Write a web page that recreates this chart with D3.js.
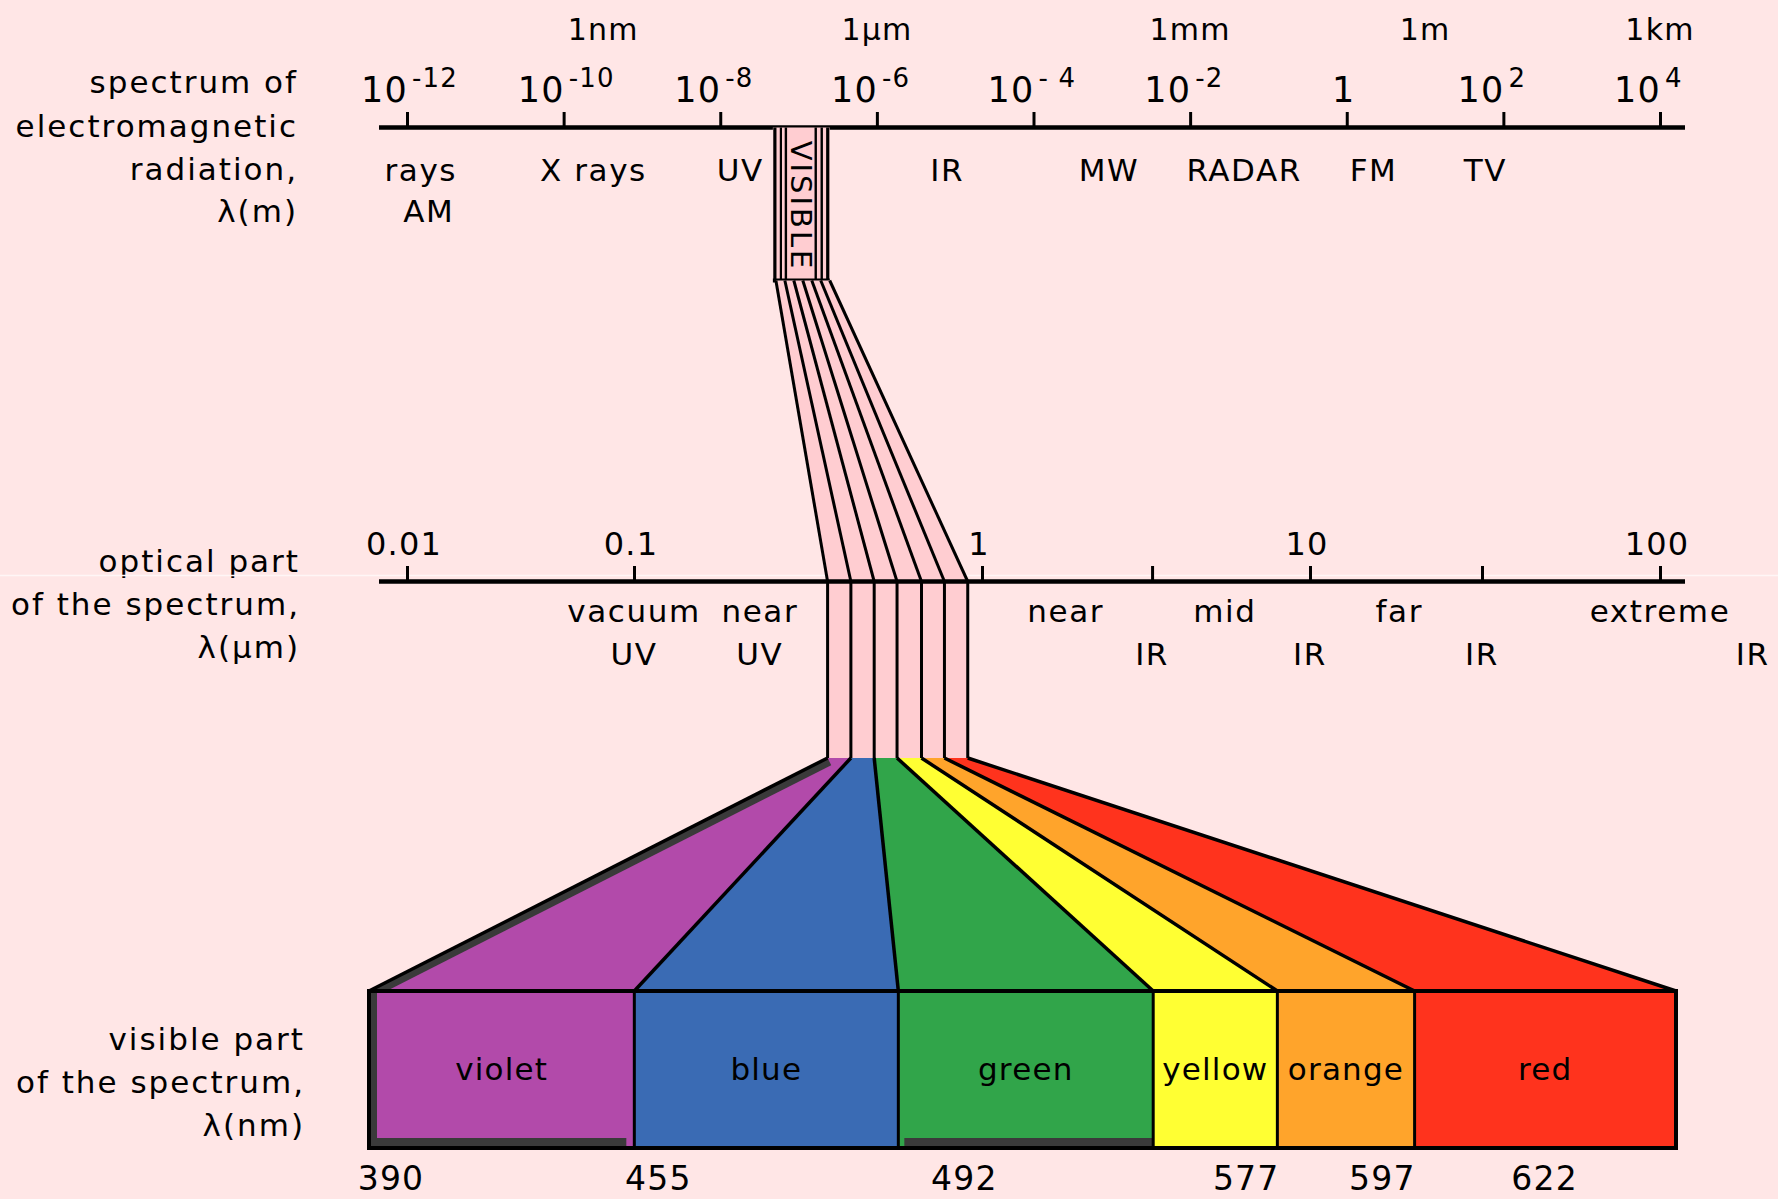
<!DOCTYPE html>
<html>
<head>
<meta charset="utf-8">
<script src="https://cdn.jsdelivr.net/npm/d3@7"></script>
<style>
  body { margin: 0; background: #ffe6e6; }
  svg { display: block; }
  text { font-family: "DejaVu Sans", sans-serif; fill: #000; }
</style>
</head>
<body>
<svg id="chart"></svg>
<script>
// ---- data ----
// top axis: wavelength in metres
const topTicksM   = [1e-12, 1e-10, 1e-8, 1e-6, 1e-4, 1e-2, 1, 1e2, 1e4];
const topTickBase = ["10", "10", "10", "10", "10", "10", "1", "10", "10"];
const topTickExp  = ["-12", "-10", "-8", "-6", "- 4", "-2", "", "2", "4"];
const unitLabels  = ["1nm", "1µm", "1mm", "1m", "1km"];
const unitAtM     = [3.2e-10, 1e-6, 1e-2, 10, 1e4];
const emBands     = ["rays", "X rays", "UV", "IR", "MW", "RADAR", "FM", "TV"];
const emBandAtM   = [1.5e-12, 2.4e-10, 1.8e-8, 7.9e-6, 9.2e-4, 0.049, 2.2, 59];
const emBands2    = ["AM"];
const emBands2AtM = [1.9e-12];
const visibleM    = [4.7e-8, 2.5e-7];

// optical axis: wavelength in micrometres
const optTicks       = [0.01, 0.1, 1, 10, 100];
const optTickLabels  = ["0.01", "0.1", "1", "10", "100"];
const optMinorTicks  = [3.3, 31];
const optTop         = ["vacuum", "near", "near", "mid", "far", "extreme"];
const optTopAt       = [0.1, 0.23, 1.8, 5.5, 18, 100];
const optBottom      = ["UV", "UV", "IR", "IR", "IR", "IR"];
const optBottomAt    = [0.1, 0.23, 3.3, 10, 31, 184];
const visibleEdgesUm = [0.36, 0.42, 0.49, 0.57, 0.67, 0.78, 0.91];

// visible part: wavelength in nanometres
const colorNames = ["violet", "blue", "green", "yellow", "orange", "red"];
const colorFills = ["#b24aaa", "#3a6bb4", "#31a54a", "#ffff33", "#ffa42b", "#ff331d"];
const nmEdges    = [390, 455, 492, 577, 597, 622, 780];
const nmLabels   = [390, 455, 492, 577, 597, 622];

// ---- layout ----
const W = 1778, H = 1199;
const PINK = "#ffcdd1", SHADOW = "#3a3a3a";
const Y_UNITS = 40, Y_TOPNUM = 102, Y_TOPEXP = 87, Y_TOPAXIS = 127.5;
const Y_BAND1 = 181, Y_BAND2 = 222, Y_BOXBOT = 280.5;
const Y_OPTNUM = 555, Y_OPTAXIS = 581.5, Y_OPT1 = 622, Y_OPT2 = 665;
const Y_FAN = 758, Y_BARTOP = 991, Y_BARBOT = 1148, Y_BARTXT = 1080, Y_NM = 1190;
const LABEL_X = 300;
const barShare = [0, 0.203, 0.405, 0.600, 0.695, 0.800, 1];
const nmLabelNudge = [22, 24, 66, 93, 105, 130];

const SVG = d3.select("#chart").attr("width", W).attr("height", H);
SVG.append("rect").attr("width", W).attr("height", H).attr("fill", "#ffe6e6");

const xTop = d3.scaleLog().domain([1e-12, 1e4]).range([407, 1660]);
const xOpt = d3.scaleLog().domain(optTicks).range([407, 634, 982, 1310, 1660]);
const barPx = d3.scaleLinear().domain([0, 1]).range([369, 1676]);
const xBar = d3.scaleLinear().domain(nmEdges).range(barShare.map(barPx));

const lbl = (sel, size, sp = 1.2) => sel.style("font-size", size + "px").style("letter-spacing", sp + "px");

// left captions
const captions = [
  { lines: ["spectrum of", "electromagnetic", "radiation,", "λ(m)"], y: [93, 137, 180, 222], x: 298 },
  { lines: ["optical part", "of the spectrum,", "λ(µm)"], y: [572, 615, 658], x: LABEL_X },
  { lines: ["visible part", "of the spectrum,", "λ(nm)"], y: [1050, 1093, 1136], x: 305 }
];
captions.forEach(c => {
  c.lines.forEach((t, i) => {
    SVG.append("text").attr("x", c.x).attr("y", c.y[i]).attr("text-anchor", "end")
      .text(t).call(lbl, 31, 2);
  });
});

// seam line across the picture
SVG.append("line").attr("x1", 0).attr("x2", W).attr("y1", 575.5).attr("y2", 575.5)
  .attr("stroke", "#fff6f6").attr("stroke-width", 1.5);

// ---------- top axis ----------
const topAxis = d3.axisTop(xTop).tickValues(topTicksM).tickSize(14).tickFormat("").tickSizeOuter(0);
const gTop = SVG.append("g").attr("transform", `translate(0,${Y_TOPAXIS - 1.5})`).call(topAxis);
gTop.select(".domain").remove();
gTop.selectAll(".tick line").attr("stroke", "#000").attr("stroke-width", 3);
SVG.append("line").attr("x1", xTop.range()[0] - 28).attr("x2", xTop.range()[1] + 25)
  .attr("y1", Y_TOPAXIS).attr("y2", Y_TOPAXIS).attr("stroke", "#000").attr("stroke-width", 4.5);

topTicksM.forEach((t, i) => {
  const x = xTop(t);
  const hasExp = topTickExp[i] !== "";
  SVG.append("text").attr("x", hasExp ? x + 1 : x - 3).attr("y", Y_TOPNUM)
    .attr("text-anchor", hasExp ? "end" : "middle").text(topTickBase[i]).call(lbl, 35);
  if (hasExp) {
    SVG.append("text").attr("x", x + 5).attr("y", Y_TOPEXP).attr("text-anchor", "start")
      .text(topTickExp[i]).call(lbl, 26);
  }
});

unitLabels.forEach((u, i) => {
  SVG.append("text").attr("x", xTop(unitAtM[i])).attr("y", Y_UNITS).attr("text-anchor", "middle")
    .text(u).call(lbl, 30);
});
emBands.forEach((b, i) => {
  SVG.append("text").attr("x", xTop(emBandAtM[i])).attr("y", Y_BAND1).attr("text-anchor", "middle")
    .text(b).call(lbl, 31, 1.6);
});
emBands2.forEach((b, i) => {
  SVG.append("text").attr("x", xTop(emBands2AtM[i])).attr("y", Y_BAND2).attr("text-anchor", "middle")
    .text(b).call(lbl, 31, 1.6);
});

// ---------- VISIBLE box ----------
const bx0 = xTop(visibleM[0]), bx1 = xTop(visibleM[1]);
SVG.append("rect").attr("x", bx0).attr("y", Y_TOPAXIS).attr("width", bx1 - bx0)
  .attr("height", Y_BOXBOT - Y_TOPAXIS).attr("fill", PINK);
[[2, 3.2], [8, 2.2], [13, 2.4], [-14, 2.4], [-8, 2.4], [-2, 3.2]].forEach(([off, w]) => {
  const x = off > 0 ? bx0 + off : bx1 + off;
  SVG.append("line").attr("x1", x).attr("x2", x).attr("y1", Y_TOPAXIS).attr("y2", Y_BOXBOT)
    .attr("stroke", "#000").attr("stroke-width", w);
});
SVG.append("line").attr("x1", bx0).attr("x2", bx1).attr("y1", Y_BOXBOT).attr("y2", Y_BOXBOT)
  .attr("stroke", "#000").attr("stroke-width", 4);
SVG.append("text").attr("transform", `translate(${(bx0 + bx1) / 2 - 10},${(Y_TOPAXIS + Y_BOXBOT) / 2 + 2}) rotate(90)`)
  .attr("text-anchor", "middle").style("font-size", "29px").style("letter-spacing", "3px")
  .text("VISIBLE");

// ---------- fan from the box down to the optical axis ----------
const fanTop = d3.scalePoint().domain(d3.range(visibleEdgesUm.length)).range([bx0 + 3, bx1]);
const n = visibleEdgesUm.length;
SVG.append("path").attr("fill", PINK).attr("d", d3.line()([
  [fanTop(0), Y_BOXBOT], [fanTop(n - 1), Y_BOXBOT],
  [xOpt(visibleEdgesUm[n - 1]), Y_OPTAXIS], [xOpt(visibleEdgesUm[0]), Y_OPTAXIS]
]));
SVG.append("rect").attr("x", xOpt(visibleEdgesUm[0])).attr("y", Y_OPTAXIS)
  .attr("width", xOpt(visibleEdgesUm[n - 1]) - xOpt(visibleEdgesUm[0]))
  .attr("height", Y_FAN - Y_OPTAXIS).attr("fill", PINK);
visibleEdgesUm.forEach((e, i) => {
  SVG.append("line").attr("x1", fanTop(i)).attr("y1", Y_BOXBOT)
    .attr("x2", xOpt(e)).attr("y2", Y_OPTAXIS).attr("stroke", "#000").attr("stroke-width", 3);
  SVG.append("line").attr("x1", xOpt(e)).attr("y1", Y_OPTAXIS)
    .attr("x2", xOpt(e)).attr("y2", Y_FAN).attr("stroke", "#000").attr("stroke-width", 3);
});

// ---------- optical axis ----------
const optAxis = d3.axisTop(xOpt).tickValues(optTicks.concat(optMinorTicks)).tickSize(14).tickFormat("").tickSizeOuter(0);
const gOpt = SVG.append("g").attr("transform", `translate(0,${Y_OPTAXIS - 1.5})`).call(optAxis);
gOpt.select(".domain").remove();
gOpt.selectAll(".tick line").attr("stroke", "#000").attr("stroke-width", 3);
SVG.append("line").attr("x1", xOpt(optTicks[0]) - 28).attr("x2", xOpt(optTicks[4]) + 25)
  .attr("y1", Y_OPTAXIS).attr("y2", Y_OPTAXIS).attr("stroke", "#000").attr("stroke-width", 4.5);
optTicks.forEach((t, i) => {
  SVG.append("text").attr("x", xOpt(t) - 3).attr("y", Y_OPTNUM).attr("text-anchor", "middle")
    .text(optTickLabels[i]).call(lbl, 32);
});
optTop.forEach((t, i) => {
  SVG.append("text").attr("x", xOpt(optTopAt[i])).attr("y", Y_OPT1).attr("text-anchor", "middle")
    .text(t).call(lbl, 31, 1.6);
});
optBottom.forEach((t, i) => {
  SVG.append("text").attr("x", xOpt(optBottomAt[i])).attr("y", Y_OPT2).attr("text-anchor", "middle")
    .text(t).call(lbl, 31, 1.6);
});

// ---------- coloured fan ----------
const defs = SVG.append("defs");
colorNames.forEach((c, i) => {
  const pts = [
    [xOpt(visibleEdgesUm[i]), Y_FAN], [xOpt(visibleEdgesUm[i + 1]), Y_FAN],
    [xBar(nmEdges[i + 1]), Y_BARTOP], [xBar(nmEdges[i]), Y_BARTOP]
  ];
  SVG.append("path").attr("d", d3.line()(pts) + "Z").attr("fill", colorFills[i]);
  if (i === 0) {
    defs.append("clipPath").attr("id", "violetClip").append("path").attr("d", d3.line()(pts) + "Z");
    SVG.append("line").attr("clip-path", "url(#violetClip)")
      .attr("x1", pts[0][0]).attr("y1", pts[0][1]).attr("x2", pts[3][0]).attr("y2", pts[3][1])
      .attr("stroke", SHADOW).attr("stroke-width", 16);
  }
});
visibleEdgesUm.forEach((e, i) => {
  SVG.append("line").attr("x1", xOpt(e)).attr("y1", Y_FAN)
    .attr("x2", xBar(nmEdges[i])).attr("y2", Y_BARTOP)
    .attr("stroke", "#000").attr("stroke-width", 3.5);
});

// ---------- colour bar ----------
colorNames.forEach((c, i) => {
  const x0 = xBar(nmEdges[i]), x1 = xBar(nmEdges[i + 1]);
  SVG.append("rect").attr("x", x0).attr("y", Y_BARTOP).attr("width", x1 - x0)
    .attr("height", Y_BARBOT - Y_BARTOP).attr("fill", colorFills[i]);
});
// inner shadows
SVG.append("rect").attr("x", xBar(nmEdges[0]) + 2).attr("y", Y_BARTOP)
  .attr("width", 6).attr("height", Y_BARBOT - Y_BARTOP).attr("fill", SHADOW);
[0, 2].forEach(i => {
  const x0 = xBar(nmEdges[i]) + (i === 0 ? 2 : 6), x1 = xBar(nmEdges[i + 1]) - (i === 0 ? 8 : 0);
  SVG.append("rect").attr("x", x0).attr("y", Y_BARBOT - 10).attr("width", x1 - x0)
    .attr("height", 10).attr("fill", SHADOW);
});
nmEdges.slice(1, -1).forEach(nm => {
  SVG.append("line").attr("x1", xBar(nm)).attr("x2", xBar(nm))
    .attr("y1", Y_BARTOP).attr("y2", Y_BARBOT).attr("stroke", "#000").attr("stroke-width", 3);
});
SVG.append("rect").attr("x", xBar(nmEdges[0])).attr("y", Y_BARTOP)
  .attr("width", xBar(nmEdges[nmEdges.length - 1]) - xBar(nmEdges[0]))
  .attr("height", Y_BARBOT - Y_BARTOP)
  .attr("fill", "none").attr("stroke", "#000").attr("stroke-width", 4);

colorNames.forEach((c, i) => {
  const xm = (xBar(nmEdges[i]) + xBar(nmEdges[i + 1])) / 2;
  SVG.append("text").attr("x", xm).attr("y", Y_BARTXT).attr("text-anchor", "middle")
    .text(c).call(lbl, 31);
});
nmLabels.forEach((nm, i) => {
  SVG.append("text").attr("x", xBar(nm) + nmLabelNudge[i]).attr("y", Y_NM)
    .attr("text-anchor", "middle").text(nm).call(lbl, 33);
});
</script>
</body>
</html>
